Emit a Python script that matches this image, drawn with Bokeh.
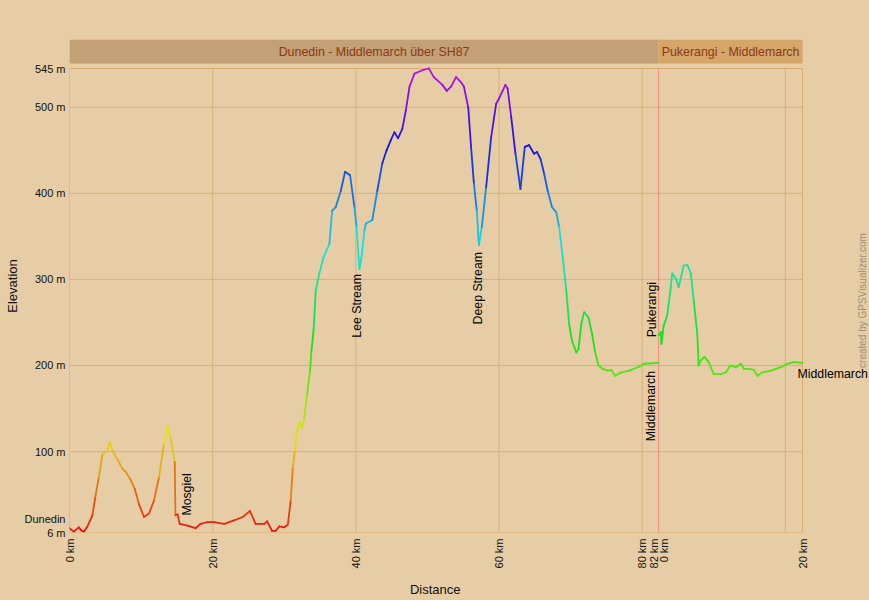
import math
import colorsys
from bokeh.plotting import figure
from bokeh.models import Label, FixedTicker, Range1d, ColumnDataSource
from bokeh.embed import file_html
from bokeh.resources import INLINE

# ---------------- data ----------------
seg_names = ["Dunedin - Middlemarch über SH87", "Pukerangi - Middlemarch"]
seg_lengths = [82.3, 20.1]

seg1_km = [0.0, 0.6, 1.3, 1.6, 2.0, 2.5, 3.2, 3.6, 4.1, 4.6, 5.3, 5.6, 6.0, 6.7, 7.4, 7.8,
           8.5, 9.1, 9.7, 10.4, 11.1, 11.8, 12.5, 13.2, 13.7, 14.1, 14.7, 14.8, 15.1, 15.4,
           16.5, 17.6, 18.3, 19.3, 20.2, 21.6, 23.0, 24.2, 25.2, 26.0, 27.2, 27.6, 28.3,
           28.8, 29.3, 30.0, 30.5, 30.9, 31.2, 31.5, 31.8, 32.1, 32.5, 32.8, 33.2, 33.6,
           33.8, 34.1, 34.4, 34.9, 35.5, 36.3, 36.7, 37.2, 37.9, 38.5, 39.2, 39.8, 40.1,
           40.5, 40.8, 41.2, 41.4, 42.3, 43.0, 43.7, 44.3, 44.9, 45.4, 45.9, 46.5, 47.0,
           47.5, 48.2, 49.3, 50.2, 50.9, 52.1, 52.7, 53.3, 54.0, 54.7, 55.1, 55.7, 56.1,
           56.5, 56.9, 57.2, 57.6, 58.2, 58.9, 59.6, 60.0, 60.9, 61.2, 61.7, 62.3, 63.0,
           63.6, 64.2, 64.9, 65.3, 65.8, 66.3, 66.8, 67.4, 68.0, 68.4, 68.9, 69.4, 69.8,
           70.2, 70.8, 71.1, 71.5, 71.9, 72.5, 73.0, 73.4, 73.9, 74.5, 75.2, 75.7, 76.2,
           77.1, 78.2, 79.4, 80.3, 82.3]
seg1_elev = [11, 7, 12, 9, 7, 13, 26, 47, 70, 97, 101, 111, 101, 91, 80, 77,
             68, 57, 39, 24, 28, 43, 70, 109, 129, 117, 88, 26, 27, 16,
             14, 11, 16, 18, 18, 16, 20, 24, 31, 16, 16, 19, 8,
             8, 13, 12, 15, 43, 82, 101, 124, 134, 128, 140, 167, 194,
             217, 241, 287, 307, 326, 341, 380, 384, 403, 425, 421, 384, 361,
             312, 326, 357, 365, 369, 403, 435, 450, 462, 471, 464, 475, 497,
             524, 539, 543, 545, 535, 526, 519, 524, 535, 529, 524, 500, 454,
             411, 380, 340, 361, 407, 465, 504, 510, 526, 522, 489, 446, 405,
             454, 456, 446, 448, 440, 423, 403, 384, 378, 361, 326, 287, 248,
             229, 215, 219, 248, 262, 256, 237, 217, 200, 196, 194, 195, 188,
             192, 194, 198, 202, 203]

seg2_km = [0.0, 0.3, 0.4, 0.7, 1.2, 1.7, 1.9, 2.4, 2.8, 3.2, 3.5, 4.0, 4.5, 4.9, 5.4,
           5.6, 5.9, 6.4, 7.0, 7.7, 8.7, 9.4, 10.0, 10.8, 11.5, 11.9, 12.6, 13.3, 13.8,
           14.5, 15.7, 17.1, 18.0, 18.9, 20.1]
seg2_elev = [235, 239, 225, 246, 258, 291, 307, 301, 291, 305, 316, 317, 307, 276, 237,
             200, 206, 210, 204, 190, 190, 192, 200, 198, 202, 196, 196, 195, 188,
             192, 194, 198, 202, 204, 203]

wpt_names = ["Dunedin", "Mosgiel", "Lee Stream", "Deep Stream", "Middlemarch", "Pukerangi", "Middlemarch"]
wpt_seg = [0, 0, 0, 0, 0, 1, 1]
wpt_km = [0.0, 16.5, 40.5, 57.2, 82.2, 0.0, 20.1]
wpt_elev = [11, 14, 312, 340, 203, 235, 203]

y_ticks = [6, 100, 200, 300, 400, 500, 545]
x_grid_km = [20, 40, 60, 80, 100]
credit = "created by GPSVisualizer.com"

# ---------------- styling ----------------
BG = "#e6cda5"
GRID = "#d9b077"
FONT = "Liberation Sans"
ELEV_MIN, ELEV_MAX = 6, 545
PX_PER_M = 464 / 539.0
PX_PER_KM = 733 / 102.4
y_top = ELEV_MAX + 29 / PX_PER_M
bar_bottom = ELEV_MAX + 5 / PX_PER_M

seg_offsets = [0.0, seg_lengths[0]]
total = sum(seg_lengths)
x_end = total + 67 / PX_PER_KM   # blank margin on the right, inside the frame


def elev_color(e):
    f = (e - ELEV_MIN) / (ELEV_MAX - ELEV_MIN)
    f = min(max(f, 0), 1)
    r, g, b = colorsys.hsv_to_rgb(f * 290 / 360.0, 0.92, 0.9)
    return "#%02x%02x%02x" % (int(r * 255), int(g * 255), int(b * 255))


p = figure(width=869, height=600, x_range=Range1d(0, x_end), y_range=Range1d(ELEV_MIN, y_top),
           output_backend="svg", toolbar_location=None,
           min_border_left=69, min_border_right=0, min_border_top=39, min_border_bottom=68)
p.background_fill_color = BG
p.border_fill_color = BG
p.styles = {"background-color": BG}
p.outline_line_color = None
p.grid.visible = False

# title bars
bar_colors = ["#c4a077", "#d5a569"]
bar_text_shift = [10, 0]
for i, name in enumerate(seg_names):
    p.quad(left=seg_offsets[i], right=seg_offsets[i] + seg_lengths[i], bottom=bar_bottom, top=y_top,
           fill_color=bar_colors[i], line_color=None)
    p.add_layout(Label(x=seg_offsets[i] + seg_lengths[i] / 2, y=(bar_bottom + y_top) / 2, text=name,
                       x_offset=bar_text_shift[i],
                       text_align="center", text_baseline="middle", text_font=FONT,
                       text_font_size="12.4px", text_color="#8a3a14"))

# grid lines
p.segment(x0=[0] * 5, y0=y_ticks[1:6], x1=[total] * 5, y1=y_ticks[1:6], line_color=GRID, line_width=1)
p.segment(x0=x_grid_km, y0=[ELEV_MIN] * len(x_grid_km), x1=x_grid_km, y1=[ELEV_MAX] * len(x_grid_km),
          line_color=GRID, line_width=1)
# frame border
p.line(x=[0, total, total, 0, 0], y=[ELEV_MIN, ELEV_MIN, ELEV_MAX, ELEV_MAX, ELEV_MIN],
       line_color="#dcaa6c", line_width=1)
# segment boundary
p.segment(x0=[seg_lengths[0]], y0=[ELEV_MIN], x1=[seg_lengths[0]], y1=[ELEV_MAX],
          line_color="#f28c7c", line_width=1)

# profile
x0, y0, x1, y1, cols = [], [], [], [], []
for off, kms, els in [(seg_offsets[0], seg1_km, seg1_elev), (seg_offsets[1], seg2_km, seg2_elev)]:
    for i in range(len(kms) - 1):
        x0.append(off + kms[i]); x1.append(off + kms[i + 1])
        y0.append(els[i]); y1.append(els[i + 1])
        cols.append(elev_color((els[i] + els[i + 1]) / 2))
src = ColumnDataSource(dict(x0=x0, y0=y0, x1=x1, y1=y1, c=cols))
p.segment(x0="x0", y0="y0", x1="x1", y1="y1", line_color="c", line_width=1.8, line_cap="round", source=src)

# left axis: elevation ticks + start waypoint name
dunedin_tick = wpt_elev[0] + 9 / PX_PER_M
p.yaxis.ticker = FixedTicker(ticks=y_ticks + [dunedin_tick])
ov = {t: "%d m" % t for t in y_ticks}
ov[dunedin_tick] = wpt_names[0]
p.yaxis.major_label_overrides = ov
p.yaxis.axis_label = "Elevation"
p.yaxis.axis_label_standoff = 2

# bottom axis
x_ticks = [0, 20, 40, 60, 80, seg_lengths[0] - 0.7, seg_lengths[0] + 0.7, total]
x_labels = ["0 km", "20 km", "40 km", "60 km", "80 km", "%d km" % round(seg_lengths[0]), "0 km",
            "%d km" % round(seg_lengths[1])]
p.xaxis.ticker = FixedTicker(ticks=x_ticks)
p.xaxis.major_label_overrides = dict(zip(x_ticks, x_labels))
p.xaxis.major_label_orientation = math.pi / 2
p.xaxis.axis_label = "Distance" + "\u00a0" * 19   # padding keeps it centred under the data area
p.xaxis.axis_label_standoff = 11

for ax in (p.xaxis[0], p.yaxis[0]):
    ax.axis_line_color = None
    ax.major_tick_line_color = None
    ax.minor_tick_line_color = None
    ax.major_tick_out = 0
    ax.major_tick_in = 0
    ax.major_label_text_font = FONT
    ax.major_label_text_color = "#111111"
    ax.major_label_text_font_size = "11px"
    ax.axis_label_text_font = FONT
    ax.axis_label_text_font_size = "13px"
    ax.axis_label_text_font_style = "normal"
    ax.axis_label_text_color = "#111111"
p.yaxis[0].major_label_standoff = 4
p.xaxis[0].major_label_standoff = 6

# credit, in the right margin
p.add_layout(Label(x=total, y=(ELEV_MIN + ELEV_MAX) / 2, x_offset=60, text=credit, angle=math.pi / 2,
                   text_align="center", text_baseline="middle", text_font=FONT,
                   text_font_size="10px", text_color="#a0907a"))

# waypoint labels (angle, align, x_off, y_off)
wpt_style = {1: (math.pi / 2, "left", -1, 10), 2: (math.pi / 2, "right", -2, -5),
             3: (math.pi / 2, "right", -1, -7), 4: (math.pi / 2, "right", -7, -8),
             5: (math.pi / 2, "left", -7, -2), 6: (0, "left", -5, -11)}
for i, st in wpt_style.items():
    ang, al, xo, yo = st
    p.add_layout(Label(x=seg_offsets[wpt_seg[i]] + wpt_km[i], y=wpt_elev[i], x_offset=xo, y_offset=yo,
                       text=wpt_names[i], angle=ang, text_align=al, text_baseline="middle",
                       text_font=FONT, text_font_size="12.3px", text_color="#000000"))

open("out.html", "w").write(file_html(p, INLINE))
